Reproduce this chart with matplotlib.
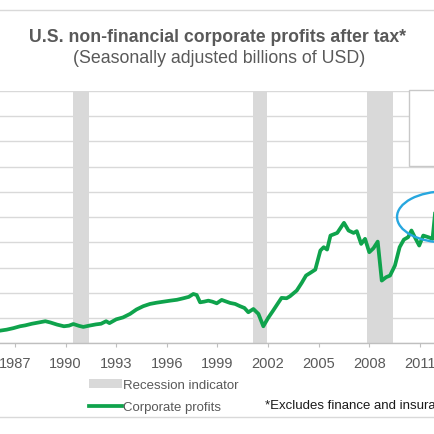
import matplotlib
matplotlib.use("Agg")
import matplotlib.pyplot as plt
from matplotlib.patches import Ellipse, Rectangle, Patch
from matplotlib.lines import Line2D

plt.rcParams['font.family'] = ['Liberation Sans', 'DejaVu Sans']

# quarterly profits (billions of USD)
years = [1986.1, 1986.5, 1986.9, 1987.3, 1987.6, 1988.0, 1988.4, 1988.8, 1989.1, 1989.5,
         1989.9, 1990.2, 1990.46, 1990.8, 1991.05, 1991.4, 1991.8, 1992.1, 1992.4, 1992.6,
         1993.0, 1993.4, 1993.82, 1994.2, 1994.6, 1995.0, 1995.4, 1995.8, 1996.2, 1996.6,
         1996.98, 1997.3, 1997.57, 1997.77, 1997.97, 1998.2, 1998.46, 1998.7, 1998.96, 1999.25,
         1999.5, 1999.75, 2000.05, 2000.34, 2000.6, 2000.83, 2001.13, 2001.43, 2001.72, 2002.0,
         2002.3, 2002.6, 2002.8, 2003.1, 2003.3, 2003.7, 2004.0, 2004.25, 2004.5, 2004.8,
         2005.1, 2005.3, 2005.5, 2005.7, 2006.1, 2006.5, 2006.77, 2007.07, 2007.26, 2007.52,
         2007.75, 2008.0, 2008.25, 2008.5, 2008.74, 2009.0, 2009.23, 2009.52, 2009.8, 2010.05,
         2010.3, 2010.5, 2010.7, 2010.96, 2011.2, 2011.5, 2011.75, 2011.95]
profits = [100, 108, 120, 135, 142, 155, 165, 175, 165, 148,
           135, 140, 153, 138, 130, 140, 150, 155, 175, 160,
           190, 205, 233, 268, 294, 312, 322, 330, 338, 345,
           357, 368, 391, 383, 325, 330, 338, 330, 317, 344,
           332, 320, 312, 294, 280, 246, 272, 233, 135, 200,
           259, 320, 360, 357, 373, 418, 480, 537, 558, 584,
           735, 762, 743, 854, 875, 955, 894, 875, 889, 788,
           828, 722, 754, 806, 497, 524, 537, 616, 762, 822,
           841, 894, 841, 775, 854, 841, 828, 1100]

recession_start = [1990.42, 2001.13, 2007.88]
recession_end = [1991.40, 2001.93, 2009.39]

tick_years = list(range(1987, 2012, 3))

title = "U.S. non-financial corporate profits after tax*"
subtitle = "(Seasonally adjusted billions of USD)"
footnote = "*Excludes finance and insurance"

grey_txt = "#595959"
grid_c = "#d9d9d9"
green = "#0fa34c"

fig = plt.figure(figsize=(4.35, 4.35), dpi=100)
ax = fig.add_axes([0, 0.2085, 1, 0.58])

ax.set_yticks(range(0, 2001, 200))
ax.yaxis.grid(True, color=grid_c, linewidth=1.0)
ax.set_axisbelow(True)
ax.tick_params(axis='y', left=False, labelleft=False)

ax.set_xticks(tick_years)
ax.set_xticklabels([str(y) for y in tick_years])
ax.tick_params(axis='x', direction='out', length=3, width=0.8, color="#bfbfbf",
               labelsize=10.5, labelcolor=grey_txt, pad=6)

ax.set_xlim(1986.111, 2011.896)
ax.set_ylim(0, 2000)

for s in ['top', 'left', 'right']:
    ax.spines[s].set_visible(False)
ax.spines['bottom'].set_color("#bfbfbf")
ax.spines['bottom'].set_linewidth(1.0)

for a, b in zip(recession_start, recession_end):
    ax.axvspan(a, b, color=grid_c, linewidth=0, zorder=1)

ax.plot(years, profits, color=green, linewidth=2.7, zorder=3, solid_joinstyle='round')

# highlight ellipse and (mostly cropped) call-out box
ax.add_patch(Ellipse((2012.49, 1002), 5.69, 405, fill=False, edgecolor="#27a7df",
                     linewidth=1.7, zorder=4, clip_on=False))
ax.add_patch(Rectangle((2010.36, 1407), 3, 604, facecolor="white", edgecolor="#c8c8c8",
                       linewidth=1.0, zorder=5, clip_on=False))

fig.text(0.5, 0.904, title, ha='center', va='baseline', fontsize=12.7,
         fontweight='bold', color=grey_txt)
fig.text(0.503, 0.855, subtitle, ha='center', va='baseline', fontsize=12.8, color=grey_txt)

handles = [Patch(facecolor=grid_c, edgecolor='none'),
           Line2D([], [], color=green, linewidth=2.7)]
fig.legend(handles, ["Recession indicator", "Corporate profits"],
           loc='upper left', bbox_to_anchor=(0.205, 0.127), frameon=False,
           fontsize=9.5, labelcolor=grey_txt, handlelength=2.5, handleheight=0.7,
           handletextpad=0.1, labelspacing=0.75, borderpad=0, borderaxespad=0)

fig.text(0.609, 0.0667, footnote, ha='left', va='center', fontsize=9.5, color="#1a1a1a")

fig.add_artist(Line2D([0, 1], [0.9754, 0.9754], color=grid_c, linewidth=1.0))
fig.add_artist(Line2D([0, 1], [0.039, 0.039], color=grid_c, linewidth=1.0))

fig.savefig("out.png", dpi=100)
